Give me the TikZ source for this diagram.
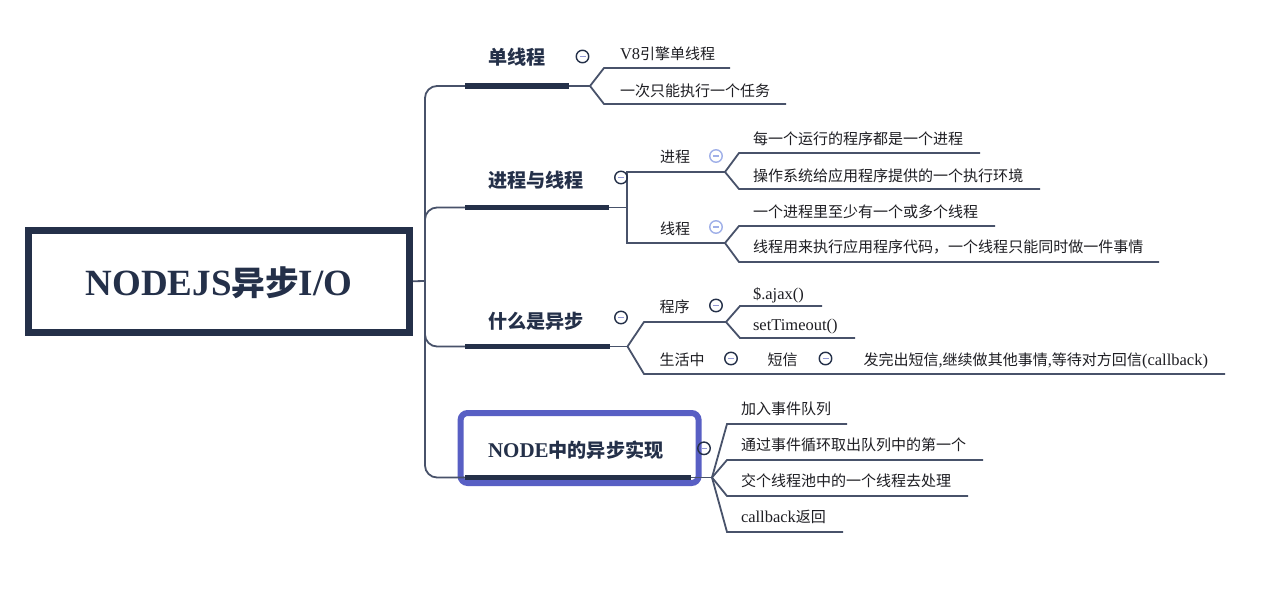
\documentclass[tikz,border=0pt]{standalone}
\usepackage{fontspec}
\setmainfont{Liberation Serif}
\newfontfamily\cjk[Scale=0.91]{Noto Sans CJK SC}
\definecolor{navy}{RGB}{36,48,73}
\definecolor{linec}{RGB}{72,82,106}
\definecolor{lightc}{RGB}{160,176,232}
\definecolor{dashc}{RGB}{146,152,212}
\definecolor{selc}{RGB}{88,95,196}
\definecolor{txt}{RGB}{30,30,35}
\begin{document}
\begin{tikzpicture}[x=1pt,y=-1pt,
  conn/.style={draw=linec, line width=1.8pt},
  bar/.style={draw=navy, line width=5.5pt},
  subtxt/.style={anchor=base west, inner sep=0pt, outer sep=0pt, text=txt, font=\fontsize{16.5}{18}\selectfont},
  brtxt/.style={anchor=base west, inner sep=0pt, outer sep=0pt, text=navy, font=\bfseries\fontsize{21}{24}\selectfont},
  coll/.style={circle, draw=navy, line width=1.4pt, minimum size=12.5pt, inner sep=0pt,
    path picture={\draw[dashc, line width=1.5pt] ([xshift=-3pt]path picture bounding box.center) -- ([xshift=3pt]path picture bounding box.center);}},
  colllight/.style={circle, draw=lightc, line width=1.4pt, minimum size=12.5pt, inner sep=0pt,
    path picture={\draw[lightc, line width=1.5pt] ([xshift=-3pt]path picture bounding box.center) -- ([xshift=3pt]path picture bounding box.center);}},
  rootbox/.style={draw=navy, line width=7pt, minimum width=381pt, minimum height=101.5pt, inner sep=0pt},
  selbox/.style={draw=selc, line width=6pt, rounded corners=7pt, minimum width=238pt, minimum height=70pt, inner sep=0pt}
]
\fill[white] (0,0) rectangle (1262,594);
\useasboundingbox (0,0) rectangle (1262,594);

% selection box
\node[selbox] (sel) at (579.6,448) {};

% root
\node[rootbox] (root) at (219,281.25) {};
\node[anchor=base, inner sep=0pt, text=navy, font=\bfseries\fontsize{37}{40}\selectfont] (roottxt) at (219,295) {NODEJS{\cjk 异步}I/O};

% hub and branch coordinates
\coordinate (hub) at (425,281);
\draw[conn] (root.east) -- (hub);

\coordinate (b1s) at (465,86);   \coordinate (b1e) at (569,86);
\coordinate (b2s) at (465,207.5); \coordinate (b2e) at (609,207.5);
\coordinate (b3s) at (465,346.5); \coordinate (b3e) at (610,346.5);
\coordinate (b4s) at (465,477.5); \coordinate (b4e) at (691,477.5);

\draw[conn, rounded corners=12pt] (hub) |- (b1s);
\draw[conn, rounded corners=12pt] (hub) |- (b2s);
\draw[conn, rounded corners=12pt] (hub) |- (b3s);
\draw[conn, rounded corners=12pt] (hub) |- (b4s);

% branch 1
\coordinate (f1) at (590,86);
\coordinate (a1) at (604,68);  \coordinate (a1e) at (730,68);
\coordinate (a2) at (604,104); \coordinate (a2e) at (786,104);
\draw[conn] (b1e) -- (f1);
\draw[conn] (f1) -- (a1) -- (a1e);
\draw[conn] (f1) -- (a2) -- (a2e);

% branch 2
\coordinate (f2) at (627,207.5);
\coordinate (p1) at (627,172); \coordinate (p1e) at (725,172);
\coordinate (p2) at (627,243); \coordinate (p2e) at (725,243);
\draw[conn] (b2e) -- (f2);
\draw[conn] (p1e) -- (p1) -- (p2) -- (p2e);
\coordinate (q1) at (739,153); \coordinate (q1e) at (980,153);
\coordinate (q2) at (739,189); \coordinate (q2e) at (1040,189);
\draw[conn] (p1e) -- (q1) -- (q1e);
\draw[conn] (p1e) -- (q2) -- (q2e);
\coordinate (q3) at (739,226); \coordinate (q3e) at (995,226);
\coordinate (q4) at (739,262); \coordinate (q4e) at (1159,262);
\draw[conn] (p2e) -- (q3) -- (q3e);
\draw[conn] (p2e) -- (q4) -- (q4e);

% branch 3
\coordinate (f3) at (627.5,346.5);
\coordinate (r1) at (644,322); \coordinate (r1e) at (726,322);
\coordinate (r2) at (644,374); \coordinate (r2e) at (1225,374);
\draw[conn] (b3e) -- (f3);
\draw[conn] (f3) -- (r1) -- (r1e);
\draw[conn] (f3) -- (r2) -- (r2e);
\coordinate (s1) at (740,306); \coordinate (s1e) at (822,306);
\coordinate (s2) at (740,338); \coordinate (s2e) at (855,338);
\draw[conn] (r1e) -- (s1) -- (s1e);
\draw[conn] (r1e) -- (s2) -- (s2e);

% branch 4
\coordinate (f4) at (712,477.5);
\coordinate (t1) at (727,424); \coordinate (t1e) at (847,424);
\coordinate (t2) at (727,460); \coordinate (t2e) at (983,460);
\coordinate (t3) at (727,496); \coordinate (t3e) at (968,496);
\coordinate (t4) at (727,532); \coordinate (t4e) at (843,532);
\draw[conn] (b4e) -- (f4);
\draw[conn] (f4) -- (t1) -- (t1e);
\draw[conn] (f4) -- (t2) -- (t2e);
\draw[conn] (f4) -- (t3) -- (t3e);
\draw[conn] (f4) -- (t4) -- (t4e);

% bars
\draw[bar] (b1s) -- (b1e);
\draw[bar] (b2s) -- (b2e);
\draw[bar] (b3s) -- (b3e);
\draw[bar] (b4s) -- (b4e);

% collapse icons
\node[coll] (c1) at (582.5,56.5) {};
\node[coll] (c2) at (621,177.5) {};
\node[colllight] (c3) at (716,156) {};
\node[colllight] (c4) at (716,227) {};
\node[coll] (c5) at (621,317.5) {};
\node[coll] (c6) at (716,305.5) {};
\node[coll] (c7) at (731,358.5) {};
\node[coll] (c8) at (825.5,358.5) {};
\node[coll] (c9) at (704,448.3) {};

% branch texts
\node[brtxt] (n1) at (488,65) {\cjk 单线程};
\node[brtxt] (n2) at (488,187) {\cjk 进程与线程};
\node[brtxt] (n3) at (488,328) {\cjk 什么是异步};
\node[brtxt] (n4) at (488,457) {NODE{\cjk 中的异步实现}};

% sub texts
\node[subtxt] (m1) at (620,59.7) {V8{\cjk 引擎单线程}};
\node[subtxt] (m2) at (620,96.7) {\cjk 一次只能执行一个任务};
\node[subtxt] (m3) at (660,162.5) {\cjk 进程};
\node[subtxt] (m4) at (660,234.5) {\cjk 线程};
\node[subtxt] (m5) at (753,144.7) {\cjk 每一个运行的程序都是一个进程};
\node[subtxt] (m6) at (753,181.5) {\cjk 操作系统给应用程序提供的一个执行环境};
\node[subtxt] (m7) at (753,217) {\cjk 一个进程里至少有一个或多个线程};
\node[subtxt] (m8) at (753,252.7) {\cjk 线程用来执行应用程序代码，一个线程只能同时做一件事情};
\node[subtxt] (m9) at (659.5,312) {\cjk 程序};
\node[subtxt] (m10) at (753,299.5) {\$.ajax()};
\node[subtxt] (m11) at (753,330.5) {setTimeout()};
\node[subtxt] (m12) at (659.5,365.7) {\cjk 生活中};
\node[subtxt] (m13) at (767.5,365.7) {\cjk 短信};
\node[subtxt] (m14) at (863.5,365.7) {{\cjk 发完出短信},{\cjk 继续做其他事情},{\cjk 等待对方回信}(callback)};
\node[subtxt] (m15) at (741,414.7) {\cjk 加入事件队列};
\node[subtxt] (m16) at (741,450.7) {\cjk 通过事件循环取出队列中的第一个};
\node[subtxt] (m17) at (741,486.5) {\cjk 交个线程池中的一个线程去处理};
\node[subtxt] (m18) at (741,522.5) {callback{\cjk 返回}};
\end{tikzpicture}
\end{document}
